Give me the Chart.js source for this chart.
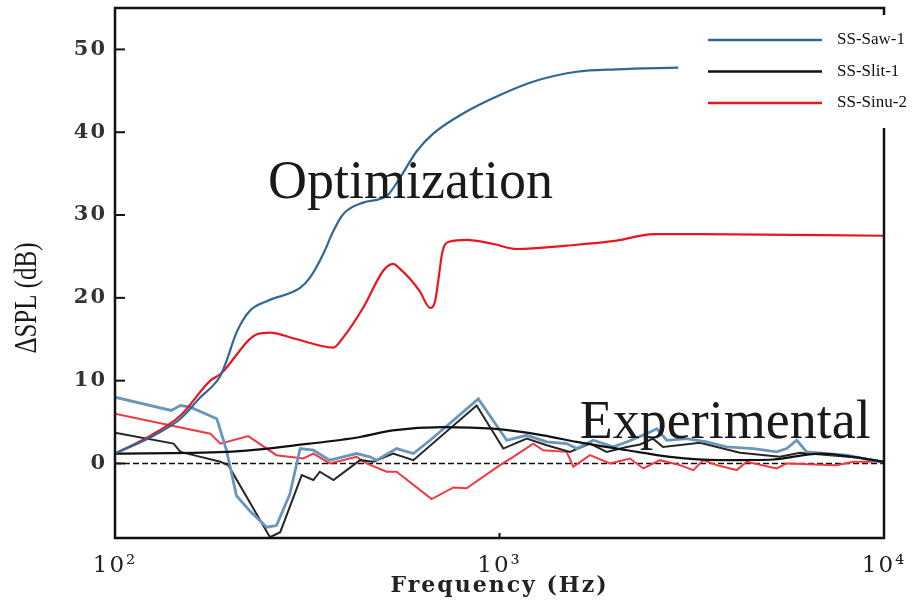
<!DOCTYPE html>
<html>
<head>
<meta charset="utf-8">
<script src="https://cdn.jsdelivr.net/npm/chart.js@4"></script>
<style>
  html, body { margin: 0; padding: 0; background: #fff; }
  canvas { display: block; }
</style>
</head>
<body>
<canvas id="chart" width="912" height="603"></canvas>
<script>
// axis ticks
const xTickValues = [100, 1000, 10000];
const xTickLabels = ['10²', '10³', '10⁴'];
const yTickValues = [0, 10, 20, 30, 40, 50];

// optimization curves
const sawOptFreq = [100, 123, 148, 166, 188, 195, 207, 224, 248, 303, 321, 348, 370, 392, 442, 509, 551, 609, 671, 821, 1003, 1222, 1588, 2017, 2917];
const sawOptVal  = [1.2, 3.1, 5.4, 7.9, 10.6, 12.4, 15.8, 18.4, 19.6, 21.2, 22.4, 25.3, 28.1, 30.1, 31.5, 32.3, 34.5, 37.7, 39.8, 42.5, 44.5, 46.1, 47.3, 47.6, 47.8];

const slitOptFreq = [100, 195, 321, 434, 528, 713, 962, 1298, 1588, 2142, 2776, 3746, 5052, 6817, 8300, 10000];
const slitOptVal  = [1.2, 1.4, 2.4, 3.2, 4.0, 4.4, 4.2, 3.4, 2.6, 1.6, 0.8, 0.4, 0.45, 1.2, 0.8, 0.2];

const sinuOptFreq = [100, 123, 148, 177, 188, 234, 253, 297, 370, 392, 442, 499, 529, 551, 585, 620, 660, 680, 695, 710, 743, 821, 964, 1108, 1495, 2017, 2512, 3322, 10000];
const sinuOptVal  = [1.2, 3.3, 5.8, 10, 10.8, 15.6, 15.8, 15.0, 14.0, 15.2, 18.8, 23.3, 24.1, 23.5, 22.3, 20.8, 18.8, 19.6, 22.5, 25.5, 26.8, 27.0, 26.5, 25.9, 26.3, 26.9, 27.7, 27.7, 27.5];

// experimental curves
const sawExpFreq = [100, 140, 148, 157, 184, 195, 207, 224, 248, 263, 285, 303, 328, 362, 392, 425, 460, 479, 540, 597, 660, 881, 1044, 1177, 1327, 1495, 1588, 1754, 1977, 2142, 2414, 2563, 2722, 3068, 3458, 3898, 4571, 5259, 5584, 5929, 6295, 7096, 7998, 9763, 10000];
const sawExpVal  = [8.0, 6.4, 7.0, 6.8, 5.4, 1.6, -3.9, -5.7, -7.7, -7.5, -3.7, 1.8, 1.6, 0.4, 0.8, 1.2, 0.8, 0.4, 1.8, 1.2, 2.8, 7.8, 2.8, 3.4, 2.6, 2.4, 1.8, 2.8, 2.0, 2.6, 3.6, 4.2, 2.8, 3.0, 2.6, 2.0, 1.8, 1.4, 1.8, 2.8, 1.4, 1.2, 1.0, 0.2, 0.2];

const slitExpFreq = [100, 142, 148, 157, 188, 197, 253, 269, 306, 328, 341, 370, 434, 470, 529, 597, 872, 1023, 1177, 1327, 1525, 1719, 1900, 2142, 2320, 2507, 2662, 3322, 4222, 5364, 6045, 7237, 8661, 10000];
const slitExpVal  = [3.7, 2.4, 1.4, 1.1, 0.2, -0.2, -8.9, -8.3, -1.4, -2.0, -1.0, -2.0, 0.4, 0.2, 1.2, 0.4, 7.0, 1.8, 3.0, 2.2, 1.4, 2.4, 1.4, 2.0, 2.3, 3.0, 2.0, 2.5, 1.3, 0.8, 1.3, 1.0, 0.7, 0.2];

const sinuExpFreq = [100, 177, 188, 222, 263, 309, 328, 362, 425, 451, 509, 540, 666, 759, 821, 1003, 1086, 1224, 1299, 1495, 1556, 1719, 1938, 2185, 2366, 2615, 2947, 3192, 3389, 3672, 4140, 4395, 5259, 5584, 7535, 8322, 10000];
const sinuExpVal  = [6.0, 3.6, 2.4, 3.3, 1.0, 0.6, 1.2, 0.0, 0.8, 0.0, -1.0, -1.0, -4.3, -2.9, -3.0, -0.2, 0.8, 2.4, 1.6, 1.4, -0.4, 1.0, 0.0, 0.6, -0.6, 0.4, -0.2, -0.8, 0.4, -0.2, -0.8, 0.2, -0.6, 0.0, -0.2, 0.2, 0.2];

const zeroFreq = [100, 10000];
const zeroVal  = [0, 0];

const seriesLabels = ['SS-Saw-1', 'SS-Slit-1', 'SS-Sinu-2'];

function pts(fs, vs) {
    return fs.map((f, i) => ({ x: f, y: vs[i] }));
}

const BLUE = '#2f6797';
const BLUE_EXP = '#6a95bd';
const BLACK = '#111111';
const RED = '#e8161e';
const RED_EXP = '#ee3a3f';

// wider letters on the axis text, like the original
const textSpacing = {
    id: 'textSpacing',
    beforeDraw(chart) { chart.ctx.letterSpacing = '2px'; },
    beforeDatasetsDraw(chart) { chart.ctx.letterSpacing = '0px'; }
};

const decorations = {
    id: 'decorations',
    afterDatasetsDraw(chart) {
        const ctx = chart.ctx;
        const a = chart.chartArea;
        const xs = chart.scales.x, ys = chart.scales.y;
        ctx.save();

        // frame
        ctx.strokeStyle = '#111';
        ctx.lineWidth = 2.5;
        ctx.strokeRect(a.left, a.top, a.right - a.left, a.bottom - a.top);

        // inward ticks
        ctx.lineWidth = 2;
        yTickValues.forEach(v => {
            const y = ys.getPixelForValue(v);
            ctx.beginPath(); ctx.moveTo(a.left, y); ctx.lineTo(a.left + 10, y); ctx.stroke();
        });
        xTickValues.forEach(v => {
            const x = xs.getPixelForValue(v);
            ctx.beginPath(); ctx.moveTo(x, a.bottom); ctx.lineTo(x, a.bottom - 5); ctx.stroke();
        });

        // legend box
        ctx.fillStyle = '#fff';
        ctx.fillRect(a.right - 190, a.top + 7, 220, 113);
        ctx.font = '17px "Liberation Serif"';
        ctx.textBaseline = 'middle';
        ctx.textAlign = 'left';
        chart.data.datasets.filter(d => d.inLegend).forEach((d, i) => {
            const y = a.top + 32 + i * 31.5;
            ctx.strokeStyle = d.borderColor;
            ctx.lineWidth = 2.5;
            ctx.beginPath(); ctx.moveTo(a.right - 176, y); ctx.lineTo(a.right - 62, y); ctx.stroke();
            ctx.fillStyle = '#111';
            ctx.fillText(d.label, a.right - 47, y);
        });

        // annotations
        ctx.font = '54px "Liberation Serif"';
        ctx.textBaseline = 'alphabetic';
        ctx.fillStyle = '#1a1a1a';
        ctx.fillText('Optimization', xs.getPixelForValue(250), ys.getPixelForValue(32));
        ctx.fillText('Experimental', xs.getPixelForValue(1618), ys.getPixelForValue(3.1));

        // y title
        ctx.translate(28, (a.top + a.bottom) / 2 + 25);
        ctx.rotate(-Math.PI / 2);
        ctx.scale(1, 1.25);
        ctx.font = '25px "Liberation Serif"';
        ctx.textAlign = 'center';
        ctx.textBaseline = 'middle';
        ctx.fillStyle = '#1a1a1a';
        ctx.fillText('ΔSPL (dB)', 0, 0);
        ctx.restore();
    }
};

const smooth = { tension: 0.4, cubicInterpolationMode: 'monotone' };

new Chart(document.getElementById('chart'), {
    type: 'line',
    data: {
        datasets: [
            { label: seriesLabels[0], inLegend: true, data: pts(sawOptFreq, sawOptVal), borderColor: BLUE, borderWidth: 2.2, ...smooth },
            { label: seriesLabels[1], inLegend: true, data: pts(slitOptFreq, slitOptVal), borderColor: BLACK, borderWidth: 2.2, ...smooth },
            { label: seriesLabels[2], inLegend: true, data: pts(sinuOptFreq, sinuOptVal), borderColor: RED, borderWidth: 2.2, ...smooth },
            { label: seriesLabels[0] + ' exp', data: pts(sawExpFreq, sawExpVal), borderColor: BLUE_EXP, borderWidth: 2.8, tension: 0 },
            { label: seriesLabels[1] + ' exp', data: pts(slitExpFreq, slitExpVal), borderColor: '#262626', borderWidth: 2, tension: 0 },
            { label: seriesLabels[2] + ' exp', data: pts(sinuExpFreq, sinuExpVal), borderColor: RED_EXP, borderWidth: 2, tension: 0 },
            { label: 'zero', data: pts(zeroFreq, zeroVal), borderColor: '#111', borderWidth: 1.6, borderDash: [6, 3], tension: 0 }
        ]
    },
    options: {
        responsive: false,
        animation: false,
        elements: { point: { radius: 0 } },
        layout: { padding: { top: 8, right: 28, left: 0, bottom: 0 } },
        plugins: { legend: { display: false }, tooltip: { enabled: false } },
        scales: {
            x: {
                type: 'logarithmic',
                min: 100,
                max: 10000,
                afterBuildTicks: s => { s.ticks = xTickValues.map(v => ({ value: v })); },
                afterFit: s => { s.height = 65; s.paddingLeft = 0; s.paddingRight = 0; },
                ticks: {
                    callback: (v, i) => xTickLabels[i],
                    font: { family: 'DejaVu Serif', size: 23 },
                    color: '#222',
                    padding: 14,
                    maxRotation: 0,
                    autoSkip: false
                },
                grid: { display: false, drawTicks: false },
                border: { display: false },
                title: {
                    display: true,
                    text: 'Frequency (Hz)',
                    color: '#222',
                    font: { family: 'DejaVu Serif', size: 22, weight: 'bold' },
                    padding: { top: 0, bottom: 4 }
                }
            },
            y: {
                min: -9,
                max: 55,
                afterBuildTicks: s => { s.ticks = yTickValues.map(v => ({ value: v })); },
                afterFit: s => { s.width = 115; s.paddingTop = 0; s.paddingBottom = 0; },
                ticks: {
                    font: { family: 'DejaVu Serif', size: 21, weight: 'bold' },
                    color: '#333',
                    padding: 8
                },
                grid: { display: false, drawTicks: false },
                border: { display: false }
            }
        }
    },
    plugins: [textSpacing, decorations]
});
</script>
</body>
</html>
